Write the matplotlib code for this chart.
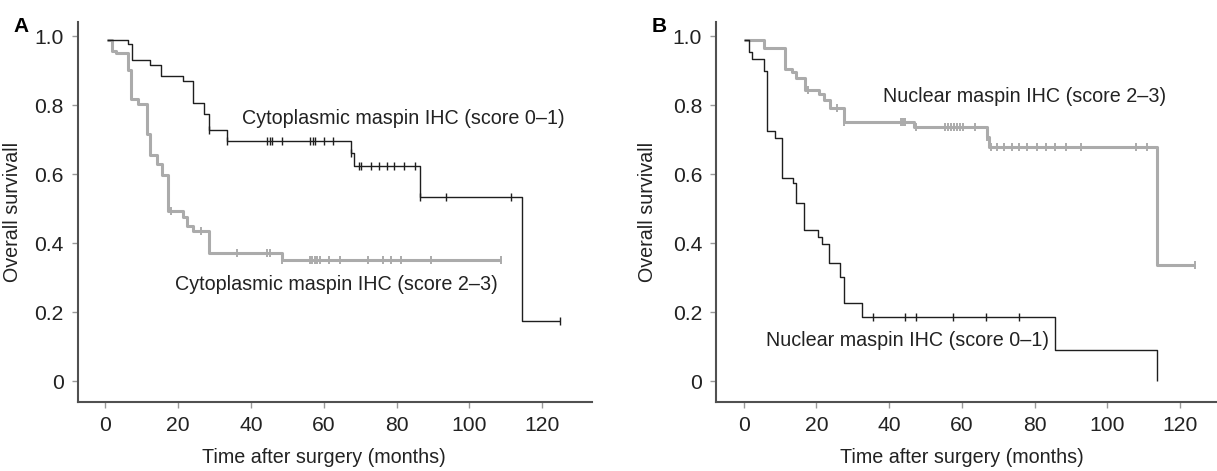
import numpy as np
import matplotlib
import matplotlib.pyplot as plt

matplotlib.use('Agg')
plt.rcParams['font.family'] = ['Liberation Sans', 'DejaVu Sans']

# panel A - cytoplasmic maspin, score 0-1 (black)
a_low_t = [0.5, 6.1, 7.3, 12.3, 15.3, 21.3, 24.2, 27.1, 28.4, 33.4, 67.5, 68.4, 86.3, 114.5, 124.9]
a_low_s = [0.99, 0.977, 0.93, 0.915, 0.883, 0.869, 0.805, 0.773, 0.728, 0.695, 0.662, 0.624, 0.534, 0.175, 0.175]
a_low_cens = [28.4, 33.4, 44.3, 45.2, 45.9, 48.5, 56.3, 57.0, 57.7, 60.1, 62.5, 67.5, 69.6, 70.2,
              73.0, 75.1, 77.3, 79.4, 82.1, 85.1, 86.3, 93.5, 111.5, 124.9]

# panel A - cytoplasmic maspin, score 2-3 (grey)
a_high_t = [0.5, 1.9, 3.0, 6.1, 7.1, 8.9, 11.4, 12.3, 14.1, 15.5, 17.1, 21.4, 22.4, 24.2, 28.5, 48.5, 108.6]
a_high_s = [0.99, 0.957, 0.95, 0.903, 0.817, 0.802, 0.715, 0.655, 0.628, 0.597, 0.493, 0.476, 0.45,
            0.435, 0.37, 0.351, 0.351]
a_high_cens = [18.0, 26.3, 36.3, 44.3, 45.2, 48.5, 56.2, 56.9, 57.6, 58.2, 58.9, 61.5, 64.4, 72.2,
               76.2, 78.4, 81.2, 89.4, 108.6]

# panel B - nuclear maspin, score 0-1 (black)
b_low_t = [0, 1.4, 2.4, 5.5, 6.4, 8.5, 10.5, 13.5, 14.4, 16.5, 20.4, 21.5, 23.4, 26.4, 27.5, 32.6, 85.7, 113.8]
b_low_s = [0.99, 0.954, 0.935, 0.899, 0.725, 0.705, 0.589, 0.573, 0.515, 0.438, 0.417, 0.397, 0.341,
           0.301, 0.225, 0.186, 0.09, 0.0]
b_low_cens = [35.7, 44.5, 47.4, 57.7, 66.6, 75.8]

# panel B - nuclear maspin, score 2-3 (grey)
b_high_t = [0, 5.5, 11.5, 13.4, 14.4, 16.8, 20.8, 22.1, 23.7, 27.7, 46.9, 66.9, 67.6, 113.8, 124.2]
b_high_s = [0.99, 0.966, 0.904, 0.896, 0.88, 0.845, 0.831, 0.814, 0.793, 0.752, 0.737, 0.708, 0.679,
            0.336, 0.336]
b_high_cens = [17.7, 25.8, 27.7, 43.2, 43.9, 44.5, 47.4, 55.5, 56.3, 57.1, 57.9, 58.7, 59.5, 60.3,
               63.7, 66.9, 68.0, 69.8, 71.7, 73.8, 75.8, 77.9, 80.6, 83.1, 85.7, 88.6, 92.7, 108.0,
               110.8, 124.2]

x_ticks = [0, 20, 40, 60, 80, 100, 120]
y_ticks = [0, 0.2, 0.4, 0.6, 0.8, 1.0]
y_ticklabels = ['0', '0.2', '0.4', '0.6', '0.8', '1.0']

BLACK = '#1e1e1e'
GREY = '#ababab'
TXT = '#222222'
FS = 14.2


def km_curve(ax, t, s, cens, color, lw, mew):
    ax.step(t, s, where='post', color=color, lw=lw, solid_capstyle='butt')
    # censor marks sit on the curve
    t = np.array(t)
    s = np.array(s)
    idx = np.searchsorted(t, cens, side='right') - 1
    ax.plot(cens, s[idx], ls='none', marker='|', ms=6, mew=mew, color=color)


def style_axes(ax, xmax, ylab_x, xlab_x):
    ax.set_xlim(-7.6, xmax)
    ax.set_ylim(-0.06, 1.041)
    for side in ['top', 'right']:
        ax.spines[side].set_visible(False)
    for side in ['left', 'bottom']:
        ax.spines[side].set_color('#505050')
        ax.spines[side].set_linewidth(1.5)
    ax.set_xticks(x_ticks)
    ax.set_yticks(y_ticks)
    ax.set_yticklabels(y_ticklabels)
    ax.tick_params(length=4, width=1, color='#999999', labelsize=FS + 1, pad=6, labelcolor=TXT)
    ax.set_xlabel('Time after surgery (months)', fontsize=FS, color=TXT)
    ax.set_ylabel('Overall survivall', fontsize=FS, color=TXT)
    ax.xaxis.set_label_coords(xlab_x, -0.122)
    ax.yaxis.set_label_coords(ylab_x, 0.5)


fig = plt.figure(figsize=(12.17, 4.71), dpi=100)
axA = fig.add_axes([0.0638, 0.1471, 0.4224, 0.8062])
axB = fig.add_axes([0.5883, 0.1471, 0.4112, 0.8062])

km_curve(axA, a_high_t, a_high_s, a_high_cens, GREY, 2.2, 1.4)
km_curve(axA, a_low_t, a_low_s, a_low_cens, BLACK, 1.0, 1.0)
style_axes(axA, 133.6, -0.108, 0.479)
axA.text(37.6, 0.76, 'Cytoplasmic maspin IHC (score 0\u20131)', fontsize=FS, color=TXT, va='center')
axA.text(19.1, 0.28, 'Cytoplasmic maspin IHC (score 2\u20133)', fontsize=FS, color=TXT, va='center')

km_curve(axB, b_high_t, b_high_s, b_high_cens, GREY, 2.2, 1.4)
km_curve(axB, b_low_t, b_low_s, b_low_cens, BLACK, 1.0, 1.0)
style_axes(axB, 130.0, -0.118, 0.492)
axB.text(38.2, 0.825, 'Nuclear maspin IHC (score 2\u20133)', fontsize=FS, color=TXT, va='center')
axB.text(6.1, 0.117, 'Nuclear maspin IHC (score 0\u20131)', fontsize=FS, color=TXT, va='center')

fig.text(13 / 1217, 1 - 26 / 471, 'A', fontsize=15, fontweight='bold', va='center', ha='left')
fig.text(652 / 1217, 1 - 26 / 471, 'B', fontsize=15, fontweight='bold', va='center', ha='left')

fig.savefig('out.png', dpi=100)
